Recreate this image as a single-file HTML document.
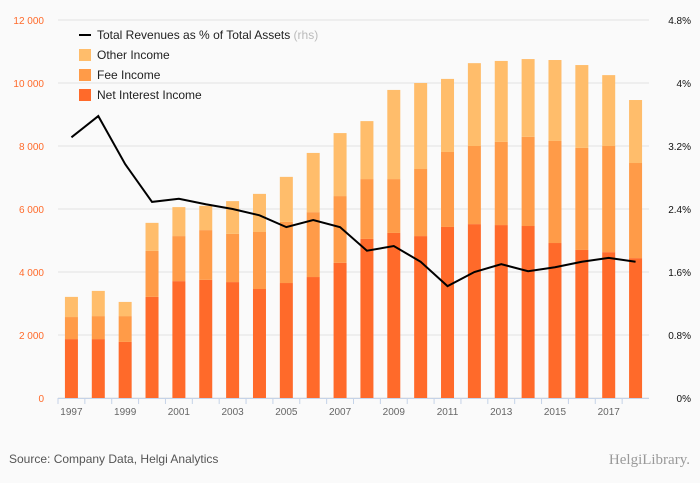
<!DOCTYPE html>
<html><head><meta charset="utf-8"><style>
body{margin:0;background:#fafafa;}
svg{display:block;font-family:"Liberation Sans",sans-serif;}
</style></head><body>
<svg id="c" width="700" height="483"></svg>
<script>
const years=[1997,1998,1999,2000,2001,2002,2003,2004,2005,2006,2007,2008,2009,2010,2011,2012,2013,2014,2015,2016,2017,2018];
const netInterest=[1870,1870,1780,3210,3710,3750,3680,3460,3650,3840,4290,5050,5240,5140,5430,5520,5490,5460,4920,4700,4630,4440];
const feeIncome=[700,730,820,1460,1430,1580,1530,1810,1940,2060,2120,1900,1710,2130,2380,2480,2640,2830,3240,3240,3370,3020];
const otherIncome=[640,800,450,890,920,770,1040,1210,1430,1880,2000,1840,2830,2730,2320,2630,2570,2470,2570,2630,2250,2000];
const ratioPct=[3.31,3.58,2.97,2.49,2.53,2.46,2.40,2.32,2.17,2.26,2.17,1.87,1.93,1.73,1.42,1.60,1.70,1.61,1.66,1.73,1.78,1.73];
const leftTicks=[0,2000,4000,6000,8000,10000,12000];
const leftTickLabels=["0","2 000","4 000","6 000","8 000","10 000","12 000"];
const rightTicks=[0,0.8,1.6,2.4,3.2,4.0,4.8];
const rightTickLabels=["0%","0.8%","1.6%","2.4%","3.2%","4%","4.8%"];

const NS="http://www.w3.org/2000/svg";
const svg=document.getElementById('c');
const X0=58,X1=649,Y0=398,Y1=20;
const step=(X1-X0)/years.length;
const xc=i=>X0+step*(i+0.5);
const yL=v=>Y0-(v/12000)*(Y0-Y1);
const yR=v=>Y0-(v/4.8)*(Y0-Y1);
function el(t,a,p){const e=document.createElementNS(NS,t);for(const k in a)e.setAttribute(k,a[k]);(p||svg).appendChild(e);return e;}

leftTicks.forEach((t,i)=>{
  const g=el('line',{x1:X0,x2:X1,y1:yL(t),y2:yL(t),stroke:'#e3e3e3','stroke-width':1});
  
  
  const l=el('text',{x:44,y:yL(t)+4,'text-anchor':'end','font-size':10,fill:'#ff6a2a'});
  l.textContent=leftTickLabels[i];
  
  
});
rightTicks.forEach((t,i)=>{
  const l=el('text',{x:691,y:yR(t)+4,'text-anchor':'end','font-size':10,fill:'#111'});
  l.textContent=rightTickLabels[i];
  
  
});
const bw=13;
years.forEach((yr,i)=>{
  const segs=[[0,netInterest[i],'#ff6a2a','bar-net-interest'],[netInterest[i],netInterest[i]+feeIncome[i],'#ff9b48','bar-fee-income'],[netInterest[i]+feeIncome[i],netInterest[i]+feeIncome[i]+otherIncome[i],'#ffbd6b','bar-other-income']];
  segs.forEach(s=>{
    const r=el('rect',{x:xc(i)-bw/2,y:yL(s[1]),width:bw,height:yL(s[0])-yL(s[1]),fill:s[2]});
    
    
  });
  const tk=el('line',{x1:X0+step*i,x2:X0+step*i,y1:Y0,y2:Y0+6,stroke:'#c5d3e8'});
  
  
  if(i%2===0){
    const l=el('text',{x:xc(i),y:415,'text-anchor':'middle','font-size':10,fill:'#666'});
    l.textContent=yr;
    
    
  }
});
const ax=el('line',{x1:X0,x2:X1,y1:Y0+0.5,y2:Y0+0.5,stroke:'#c5d3e8'});


const ln=el('polyline',{points:ratioPct.map((v,i)=>xc(i)+','+yR(v)).join(' '),fill:'none',stroke:'#000','stroke-width':2});



const leg=[['line','Total Revenues as % of Total Assets','#000',35],['box','Other Income','#ffbd6b',55],['box','Fee Income','#ff9b48',75],['box','Net Interest Income','#ff6a2a',95]];
leg.forEach(l=>{
  const g=el('g',{});
  
  
  if(l[0]==='line') el('line',{x1:79,x2:91,y1:l[3],y2:l[3],stroke:'#000','stroke-width':2},g);
  else el('rect',{x:79,y:l[3]-6,width:12,height:12,fill:l[2]},g);
  const t=el('text',{x:97,y:l[3]+4,'font-size':12,fill:'#222'},g);
  t.textContent=l[1];
  if(l[0]==='line'){const s=el('tspan',{fill:'#bbb'},t);s.textContent=' (rhs)';}
});
const src=el('text',{x:9,y:463,'font-size':12,fill:'#555'});
src.textContent='Source: Company Data, Helgi Analytics';


const logo=el('text',{x:690,y:464,'text-anchor':'end','font-size':15,fill:'#999','font-family':'Liberation Serif,serif'});
logo.textContent='HelgiLibrary.';


</script>
</body></html>
